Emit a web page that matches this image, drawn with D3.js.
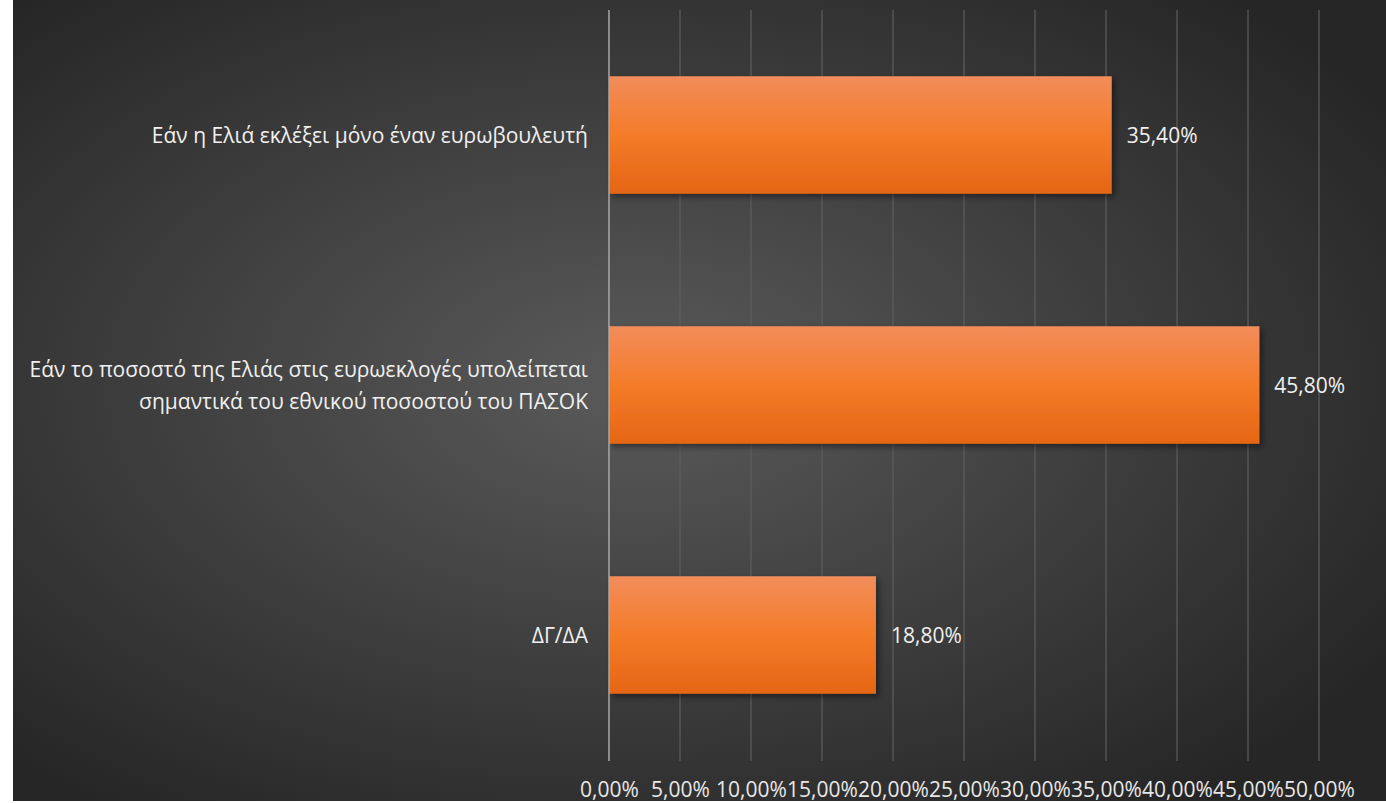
<!DOCTYPE html>
<html><head><meta charset="utf-8">
<script src="https://cdn.jsdelivr.net/npm/d3@7/dist/d3.min.js"></script>
<style>html,body{margin:0;padding:0;background:#fff;overflow:hidden}</style>
</head><body>
<svg id="chart" width="1386" height="803"></svg>
<script>
const categories = [
  ["Εάν η Ελιά εκλέξει μόνο έναν ευρωβουλευτή"],
  ["Εάν το ποσοστό της Ελιάς στις ευρωεκλογές υπολείπεται", "σημαντικά του εθνικού ποσοστού του ΠΑΣΟΚ"],
  ["ΔΓ/ΔΑ"]
];
const values = [35.4, 45.8, 18.8];
const valueLabels = ["35,40%", "45,80%", "18,80%"];
const tickValues = [0,5,10,15,20,25,30,35,40,45,50];
const tickLabels = ["0,00%","5,00%","10,00%","15,00%","20,00%","25,00%","30,00%","35,00%","40,00%","45,00%","50,00%"];

const svg = d3.select("#chart");
const font = "'Open Sans', 'Noto Sans', sans-serif";
const fs = 21;
const defs = svg.append("defs");
const bg = defs.append("radialGradient").attr("id","bg").attr("cx","45%").attr("cy","48%").attr("r","65%");
bg.append("stop").attr("offset","0%").attr("stop-color","#5a5a5a");
bg.append("stop").attr("offset","100%").attr("stop-color","#262626");
const bar = defs.append("linearGradient").attr("id","bar").attr("x1",0).attr("x2",0).attr("y1",0).attr("y2",1);
bar.append("stop").attr("offset","0%").attr("stop-color","#f28d5a");
bar.append("stop").attr("offset","50%").attr("stop-color","#f47b29");
bar.append("stop").attr("offset","100%").attr("stop-color","#e56615");
const sh = defs.append("filter").attr("id","sh").attr("x","-10%").attr("y","-10%").attr("width","130%").attr("height","140%");
sh.append("feDropShadow").attr("dx",3).attr("dy",3).attr("stdDeviation",3).attr("flood-color","#000").attr("flood-opacity",0.45);

svg.append("rect").attr("x",13).attr("y",0).attr("width",1373).attr("height",801).attr("fill","url(#bg)");

const x = d3.scaleLinear().domain([0,50]).range([609,1319]);
const y = d3.scaleBand().domain(d3.range(categories.length)).range([10,760]).paddingInner(0.53).paddingOuter(0.265);

// gridlines
svg.append("g").selectAll("line").data(tickValues.slice(1)).join("line")
  .attr("x1",d=>x(d)).attr("x2",d=>x(d)).attr("y1",10).attr("y2",761)
  .attr("stroke","#5e5e5e").attr("stroke-width",1.2);

// bars
svg.append("g").selectAll("rect").data(values).join("rect")
  .attr("x",x(0)).attr("y",(d,i)=>y(i)).attr("width",d=>x(d)-x(0)).attr("height",y.bandwidth())
  .attr("fill","url(#bar)").attr("filter","url(#sh)");

// zero axis line
svg.append("line").attr("x1",x(0)).attr("x2",x(0)).attr("y1",10).attr("y2",761)
  .attr("stroke","#a8a8a8").attr("stroke-width",1.5);

// value labels
svg.append("g").selectAll("text").data(values).join("text")
  .attr("x",d=>x(d)+15).attr("y",(d,i)=>y(i)+y.bandwidth()/2)
  .attr("dy","0.36em").attr("fill","#f0f0f0").attr("font-family",font).attr("font-size",fs)
  .text((d,i)=>valueLabels[i]);

// category labels
const cl = svg.append("g").selectAll("text").data(categories).join("text")
  .attr("x",588).attr("y",(d,i)=>y(i)+y.bandwidth()/2)
  .attr("text-anchor","end").attr("fill","#f0f0f0").attr("font-family",font).attr("font-size",fs);
cl.each(function(d){
  const t = d3.select(this);
  const n = d.length, lh = 32;
  d.forEach((line,j)=>{
    t.append("tspan").attr("x",588).attr("dy", j===0 ? ((0.36*fs) - (n-1)*lh/2) : lh).text(line);
  });
});

// x axis
const axis = d3.axisBottom(x).tickValues(tickValues).tickFormat((d,i)=>tickLabels[i]).tickSize(0).tickPadding(0);
const ag = svg.append("g").attr("transform","translate(0,797)").call(axis);
ag.select(".domain").remove();
ag.selectAll("text").attr("fill","#e8e8e8").attr("font-family",font).attr("font-size",fs).attr("dy","0");
</script>
</body></html>
